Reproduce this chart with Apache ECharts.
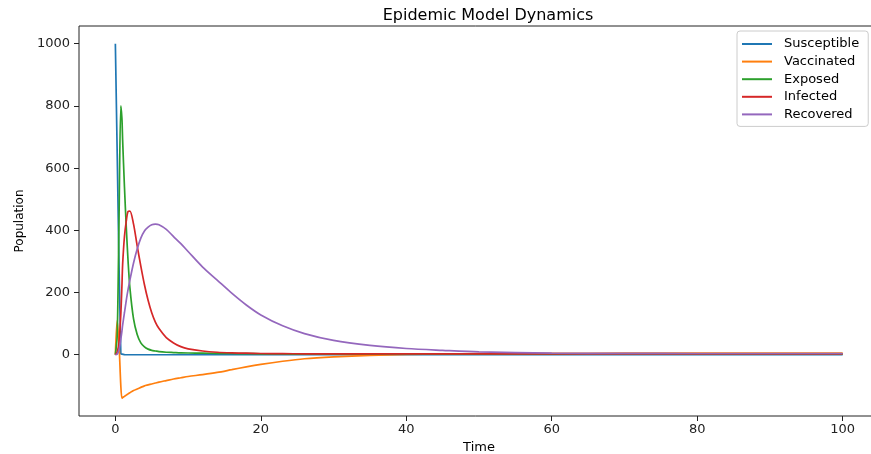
<!DOCTYPE html>
<html><head><meta charset="utf-8">
<script src="https://cdn.jsdelivr.net/npm/echarts@6/dist/echarts.min.js"></script>
<style>html,body{margin:0;padding:0;background:#fff}#c{width:871px;height:454px}</style>
</head><body><div id="c"></div>
<script>
// Time grid (denser near the start where dynamics are fast)
const time = [0,0.25,0.5,0.75,0.9,1,1.25,1.5,1.75,2,2.5,3,3.5,4,4.5,5,5.5,6,7,8,9,10,12,14,16,18,20,23,26,30,35,40,45,50,60,70,80,90,100];
const susceptible = [1000,650,290,3,1,0.5,0.2,0.1,0,0,0,0,0,0,0,0,0,0,0,0,0,0,0,0,0,0,0,0,0,0,0,0,0,0,0,0,0,0,0];
const vaccinated = [0,110,35,-100,-140,-138,-134,-130,-126,-122,-115,-110,-105,-100,-97,-94,-91,-88,-83,-78,-74,-70,-64,-57,-48,-39,-31,-21,-13,-7,-2,1,2.5,3.5,4.5,5,5,5,5];
const exposed = [0,60,430,800,760,690,540,410,300,215,115,65,38,25,18,14,12,10,8,7,6,5.5,5,4.5,4,3.5,3,2.5,2,2,2,2,2,2,2,2,2,2,2];
const infected = [0,8,40,130,220,290,380,430,461,462,420,350,285,225,175,135,105,84,55,38,26,19,12,8,6,5,4,3.5,3,3,3,3,3,3,3,3,3,3,3];
const recovered = [0,2,15,50,75,95,135,175,210,240,295,340,375,398,410,418,420,418,403,380,357,332,282,240,198,160,128,93,68,46,30,20,14,9,5,4.5,4,4,4];

const seriesNames = ['Susceptible','Vaccinated','Exposed','Infected','Recovered'];
const seriesValues = [susceptible, vaccinated, exposed, infected, recovered];
const colors = ['#1f77b4','#ff7f0e','#2ca02c','#d62728','#9467bd'];
const xTicks = [0,20,40,60,80,100];
const yTicks = [0,200,400,600,800,1000];

const F = 'DejaVu Sans';
const chart = echarts.init(document.getElementById('c'), null, {renderer:'canvas'});
chart.setOption({
  animation:false,
  backgroundColor:'#fff',
  title:{text:'Epidemic Model Dynamics', left:483, top:3, textAlign:'center',
    textStyle:{fontFamily:F, fontSize:16, fontWeight:'normal', color:'#000'}},
  legend:{orient:'vertical', left:737, top:31, padding:[6,9,5,5], itemWidth:30, itemHeight:2, itemGap:3.6, icon:'rect',
    borderColor:'#cccccc', borderWidth:1, borderRadius:3, backgroundColor:'rgba(255,255,255,0.8)',
    textStyle:{fontFamily:F, fontSize:13, color:'#000', lineHeight:14, padding:[0,0,0,7]},
    data:seriesNames},
  grid:{left:79, right:-8, top:26, bottom:38, show:true, borderColor:'#222', borderWidth:1,
    backgroundColor:'transparent', outerBoundsMode:'none'},
  xAxis:{type:'value', min:-5, max:105, name:'Time', nameLocation:'middle', nameGap:24,
    nameTextStyle:{fontFamily:F, fontSize:13, color:'#000'},
    axisLine:{show:false, onZero:false},
    axisTick:{show:true, length:5, lineStyle:{color:'#222'}, customValues:xTicks},
    axisLabel:{customValues:xTicks, margin:7, fontFamily:F, fontSize:13, color:'#222', formatter:v=>String(v)},
    splitLine:{show:false}},
  yAxis:{type:'value', min:-197, max:1057, name:'Population', nameLocation:'middle', nameGap:50, nameRotate:90,
    nameTextStyle:{fontFamily:F, fontSize:12, color:'#000'},
    axisLine:{show:false, onZero:false},
    axisTick:{show:true, length:5, lineStyle:{color:'#222'}, customValues:yTicks},
    axisLabel:{customValues:yTicks, margin:9, fontFamily:F, fontSize:13, color:'#222', formatter:v=>String(v)},
    splitLine:{show:false}},
  series: seriesNames.map((n,k)=>({
    name:n, type:'line', symbol:'none', showSymbol:false,
    smooth: k===0 ? false : 0.3,
    data: time.map((t,i)=>[t, seriesValues[k][i]]),
    lineStyle:{width:1.7, color:colors[k]}, itemStyle:{color:colors[k]}
  }))
});
</script></body></html>
